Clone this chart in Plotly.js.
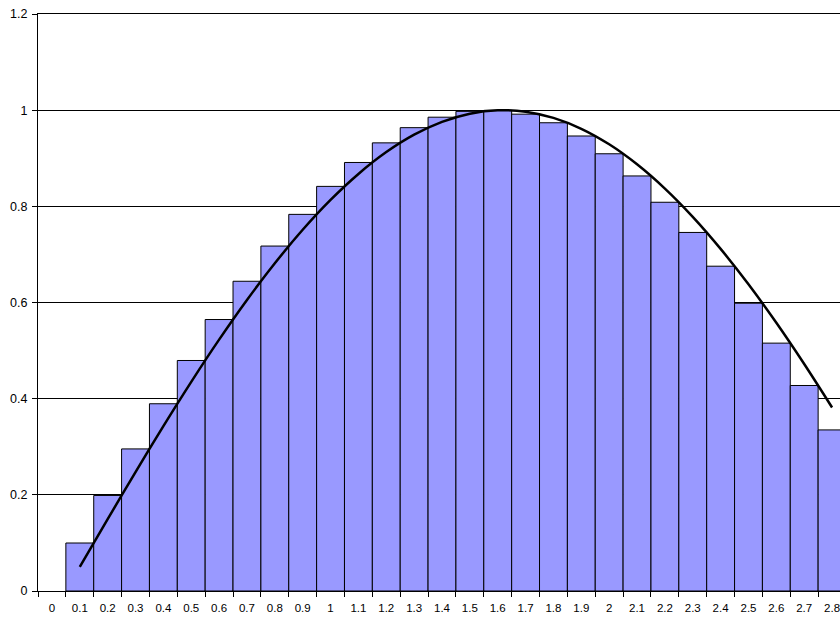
<!DOCTYPE html>
<html>
<head>
<meta charset="utf-8">
<script src="https://cdn.plot.ly/plotly-3.0.1.min.js"></script>
<style>
html, body { margin: 0; padding: 0; overflow: hidden; background: #fff; }
#chart { width: 850px; height: 619px; }
</style>
</head>
<body>
<div id="chart"></div>
<script>
var categories = ["0","0.1","0.2","0.3","0.4","0.5","0.6","0.7","0.8","0.9","1","1.1","1.2","1.3","1.4","1.5","1.6","1.7","1.8","1.9","2","2.1","2.2","2.3","2.4","2.5","2.6","2.7","2.8"];
var barValues = [null,0.0998,0.1987,0.2955,0.3894,0.4794,0.5646,0.6442,0.7174,0.7833,0.8415,0.8912,0.9320,0.9636,0.9854,0.9975,0.9996,0.9917,0.9738,0.9463,0.9093,0.8632,0.8085,0.7457,0.6755,0.5985,0.5155,0.4274,0.3350];
var lineValues = [null,0.0500,0.1494,0.2474,0.3429,0.4350,0.5227,0.6052,0.6816,0.7513,0.8134,0.8674,0.9128,0.9490,0.9757,0.9927,0.9998,0.9969,0.9840,0.9613,0.9290,0.8874,0.8369,0.7781,0.7115,0.6378,0.5577,0.4720,0.3817];
var yTicks = [0,0.2,0.4,0.6,0.8,1,1.2];
var yTickText = ["0","0.2","0.4","0.6","0.8","1","1.2"];

var traces = [
  {
    type: "bar",
    x: categories,
    y: barValues,
    marker: { color: "#9999FF", line: { color: "#000000", width: 1 } },
    hoverinfo: "skip"
  },
  {
    type: "scatter",
    mode: "lines",
    x: categories,
    y: lineValues,
    line: { color: "#000000", width: 2.5, shape: "spline", smoothing: 0.8 },
    connectgaps: false,
    hoverinfo: "skip"
  }
];

var layout = {
  width: 850,
  height: 619,
  margin: { l: 38, r: 4, t: 14, b: 28, pad: 0 },
  paper_bgcolor: "#ffffff",
  plot_bgcolor: "#ffffff",
  showlegend: false,
  bargap: 0,
  font: { family: "Liberation Sans, Arial, sans-serif", size: 12, color: "#000000" },
  xaxis: {
    type: "category",
    categoryorder: "array",
    categoryarray: categories,
    range: [-0.5, 28.5],
    showgrid: false,
    showline: true,
    mirror: true,
    linecolor: "#000000",
    linewidth: 1,
    ticks: "outside",
    tickson: "boundaries",
    ticklen: 5,
    tickcolor: "#000000",
    tickfont: { size: 11.5 },
    ticklabelstandoff: 6,
    zeroline: false,
    fixedrange: true
  },
  yaxis: {
    range: [0, 1.2],
    tickvals: yTicks,
    ticktext: yTickText,
    showgrid: true,
    gridcolor: "#000000",
    gridwidth: 1,
    showline: true,
    linecolor: "#000000",
    linewidth: 1,
    ticks: "outside",
    ticklen: 5,
    tickcolor: "#000000",
    tickfont: { size: 12.5 },
    ticklabelstandoff: 2,
    zeroline: false,
    fixedrange: true
  }
};

Plotly.newPlot("chart", traces, layout, { displayModeBar: false, staticPlot: true });
</script>
</body>
</html>
